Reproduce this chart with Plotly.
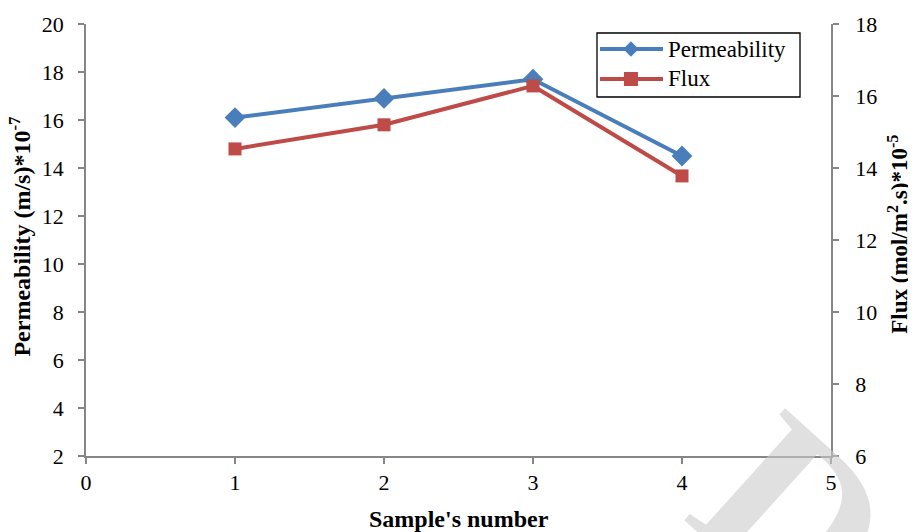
import plotly.graph_objects as go

samples = [1, 2, 3, 4]
permeability = [16.1, 16.9, 17.7, 14.5]
flux = [14.53, 15.2, 16.28, 13.78]
series_names = ["Permeability", "Flux"]

blue = "#4A7EBB"
red = "#BE4B48"
axis_grey = "#868686"
serif = "Liberation Serif, Times New Roman, serif"

fig = go.Figure()
fig.add_trace(go.Scatter(
    x=samples, y=permeability, name=series_names[0], mode="lines+markers",
    line=dict(color=blue, width=4),
    marker=dict(symbol="diamond", size=16, color=blue),
    yaxis="y"))
fig.add_trace(go.Scatter(
    x=samples, y=flux, name=series_names[1], mode="lines+markers",
    line=dict(color=red, width=4),
    marker=dict(symbol="square", size=13, color=red),
    yaxis="y2"))

# page body has an 8px margin, so the figure is 908x524 starting at (8, 8)
fig.update_layout(
    width=908, height=524,
    margin=dict(l=78, r=85, t=16, b=76, autoexpand=False),
    paper_bgcolor="white", plot_bgcolor="white",
    font=dict(family=serif, size=22, color="black"),
    showlegend=False,
    xaxis=dict(range=[0, 5], tickvals=[0, 1, 2, 3, 4, 5],
               showline=True, linecolor=axis_grey, linewidth=1.5,
               ticks="outside", ticklen=6, tickcolor=axis_grey, tickwidth=1.5,
               showgrid=False, zeroline=False),
    yaxis=dict(range=[2, 20], tickvals=list(range(2, 21, 2)),
               showline=True, linecolor=axis_grey, linewidth=1.5,
               ticks="outside", ticklen=6, tickcolor=axis_grey, tickwidth=1.5,
               ticklabelstandoff=10,
               showgrid=False, zeroline=False),
    yaxis2=dict(range=[6, 18], tickvals=list(range(6, 19, 2)),
                overlaying="y", side="right",
                showline=True, linecolor=axis_grey, linewidth=1.5,
                ticks="outside", ticklen=6, tickcolor=axis_grey, tickwidth=1.5,
                ticklabelstandoff=12,
                showgrid=False, zeroline=False),
)

# custom legend box (paper coordinates)
lx0, lx1, ly0, ly1 = 0.6859, 0.9584, 0.8310, 0.9792
fig.add_shape(type="rect", xref="paper", yref="paper", x0=lx0, x1=lx1, y0=ly0, y1=ly1,
              line=dict(color="black", width=1.3), fillcolor="white", layer="above")
line_x0, line_x1, sym_x = 0.6899, 0.7745, 0.7315
rows_y = [0.9421, 0.8727]
# Permeability entry
fig.add_shape(type="line", xref="paper", yref="paper", x0=line_x0, x1=line_x1,
              y0=rows_y[0], y1=rows_y[0], line=dict(color=blue, width=4))
dx, dy = 0.0104, 0.0180
fig.add_shape(type="path", xref="paper", yref="paper",
              path=f"M {sym_x - dx} {rows_y[0]} L {sym_x} {rows_y[0] + dy} "
                   f"L {sym_x + dx} {rows_y[0]} L {sym_x} {rows_y[0] - dy} Z",
              fillcolor=blue, line=dict(color=blue, width=0))
# Flux entry
fig.add_shape(type="line", xref="paper", yref="paper", x0=line_x0, x1=line_x1,
              y0=rows_y[1], y1=rows_y[1], line=dict(color=red, width=4))
sx, sy = 0.0094, 0.0162
fig.add_shape(type="rect", xref="paper", yref="paper",
              x0=sym_x - sx, x1=sym_x + sx, y0=rows_y[1] - sy, y1=rows_y[1] + sy,
              fillcolor=red, line=dict(color=red, width=0))
for name, ry in zip(series_names, rows_y):
    fig.add_annotation(text=name, xref="paper", yref="paper", x=0.7785, y=ry,
                       xanchor="left", yanchor="middle", showarrow=False,
                       font=dict(size=23, family=serif))

fig.add_annotation(text="<b>Permeability (m/s)*10<sup>-7</sup></b>",
                   xref="paper", yref="paper", x=-0.088, y=0.509,
                   xanchor="center", yanchor="middle", textangle=-90,
                   showarrow=False, font=dict(size=24, family=serif))
fig.add_annotation(text="<b>Flux (mol/m<sup>2</sup>.s)*10<sup>-5</sup></b>",
                   xref="paper", yref="paper", x=1.091, y=0.514,
                   xanchor="center", yanchor="middle", textangle=-90,
                   showarrow=False, font=dict(size=23, family=serif))
fig.add_annotation(text="<b>Sample's number</b>",
                   xref="paper", yref="paper", x=0.5, y=-0.146,
                   xanchor="center", yanchor="middle",
                   showarrow=False, font=dict(size=24, family=serif))

# watermark fragment
fig.add_annotation(text="<b>D</b>", xref="paper", yref="paper",
                   x=0.9517, y=-0.1366, xanchor="center", yanchor="middle",
                   textangle=42, showarrow=False,
                   font=dict(size=230, family=serif, color="rgba(202,202,202,0.59)"))

fig.write_html("out.html")
